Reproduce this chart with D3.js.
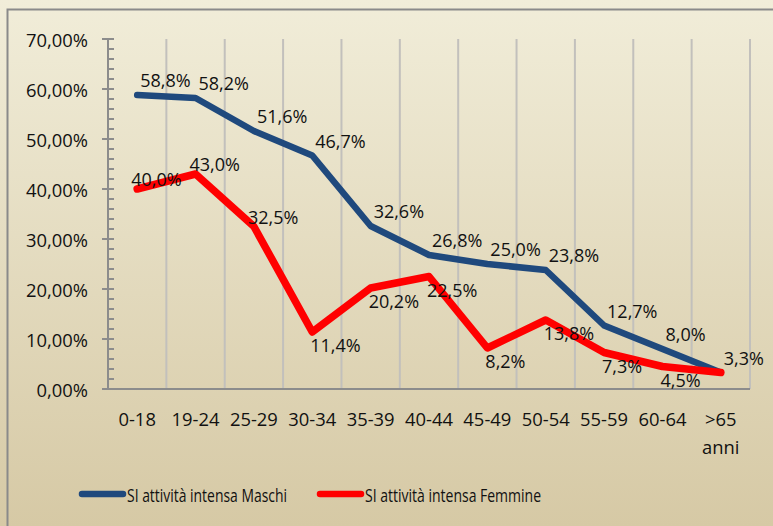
<!DOCTYPE html>
<html>
<head>
<meta charset="utf-8">
<script src="https://cdn.jsdelivr.net/npm/d3@7"></script>
<style>
  body { margin: 0; }
  svg text { font-family: "Open Sans", sans-serif; fill: #111; }
</style>
</head>
<body>
<svg id="chart" width="773" height="526"></svg>
<script>
// categories and series
const categories = ["0-18", "19-24", "25-29", "30-34", "35-39", "40-44", "45-49", "50-54", "55-59", "60-64", ">65 anni"];
const maschi = [58.8, 58.2, 51.6, 46.7, 32.6, 26.8, 25.0, 23.8, 12.7, 8.0, 3.3];
const femmine = [40.0, 43.0, 32.5, 11.4, 20.2, 22.5, 8.2, 13.8, 7.3, 4.5, 3.3];
const yTicks = [0, 10, 20, 30, 40, 50, 60, 70];
const seriesNames = ["SI attività intensa Maschi", "SI attività intensa Femmine"];

const width = 773, height = 526;
const svg = d3.select("#chart");

// background gradient
const defs = svg.append("defs");
const grad = defs.append("linearGradient").attr("id", "bg")
  .attr("x1", 0).attr("y1", 0).attr("x2", 0).attr("y2", 1);
grad.append("stop").attr("offset", "0%").attr("stop-color", "#f1edd9");
grad.append("stop").attr("offset", "100%").attr("stop-color", "#d6c9a5");
svg.append("rect").attr("width", width).attr("height", height).attr("fill", "url(#bg)");
svg.append("rect")
  .attr("x", 7.5).attr("y", 9.5).attr("width", 800).attr("height", 600)
  .attr("fill", "none").attr("stroke", "#8a8a8a").attr("stroke-width", 2);

const plotL = 108, plotR = 750, plotT = 39, plotB = 389;

const x = d3.scaleBand().domain(categories).range([plotL, plotR]);
const y = d3.scaleLinear().domain([0, 70]).range([plotB, plotT]);
const cx = d => x(d) + x.bandwidth() / 2;

// vertical gridlines at category boundaries
svg.append("g").selectAll("line")
  .data(categories)
  .enter().append("line")
  .attr("x1", d => x(d) + x.bandwidth())
  .attr("x2", d => x(d) + x.bandwidth())
  .attr("y1", plotT).attr("y2", plotB)
  .attr("stroke", "#c2c0bc").attr("stroke-width", 2);

// y axis with minor ticks
const yAxis = svg.append("g");
yAxis.append("line")
  .attr("x1", plotL).attr("x2", plotL).attr("y1", plotT).attr("y2", plotB)
  .attr("stroke", "#8c8c8c").attr("stroke-width", 2);
yAxis.selectAll(".minor")
  .data(d3.range(0, 70.01, 2))
  .enter().append("line")
  .attr("x1", plotL).attr("x2", plotL + 6)
  .attr("y1", d => y(d)).attr("y2", d => y(d))
  .attr("stroke", "#8c8c8c").attr("stroke-width", 2);
yAxis.selectAll(".major")
  .data(yTicks)
  .enter().append("line")
  .attr("x1", plotL - 6).attr("x2", plotL + 6)
  .attr("y1", d => y(d)).attr("y2", d => y(d))
  .attr("stroke", "#8c8c8c").attr("stroke-width", 2);
yAxis.selectAll("text")
  .data(yTicks)
  .enter().append("text")
  .attr("x", 88).attr("y", d => y(d))
  .attr("text-anchor", "end").attr("dominant-baseline", "central")
  .style("font-size", "18.4px")
  .text(d => d3.format(".2f")(d).replace(".", ",") + "%");

// x axis
svg.append("line")
  .attr("x1", plotL - 1).attr("x2", plotR).attr("y1", plotB).attr("y2", plotB)
  .attr("stroke", "#8c8c8c").attr("stroke-width", 2);
const xl = svg.append("g").selectAll("text")
  .data(categories)
  .enter().append("text")
  .attr("x", d => cx(d)).attr("y", 418)
  .attr("text-anchor", "middle").attr("dominant-baseline", "central")
  .style("font-size", "18.4px");
xl.each(function (d) {
  const parts = d.split(" ");
  d3.select(this).selectAll("tspan").data(parts).enter().append("tspan")
    .attr("x", cx(d)).attr("dy", (p, i) => i === 0 ? 0 : 28).text(p => p);
});

// lines
const fmt = v => d3.format(".1f")(v).replace(".", ",") + "%";
const line = d3.line().x((v, i) => cx(categories[i])).y(v => y(v));
svg.append("path").datum(maschi).attr("d", line)
  .attr("fill", "none").attr("stroke", "#1f497d").attr("stroke-width", 6.5)
  .attr("stroke-linejoin", "round").attr("stroke-linecap", "round");
svg.append("path").datum(femmine).attr("d", line)
  .attr("fill", "none").attr("stroke", "#ff0000").attr("stroke-width", 7.5)
  .attr("stroke-linejoin", "round").attr("stroke-linecap", "round");

// data labels
svg.append("g").selectAll("text")
  .data(maschi)
  .enter().append("text")
  .attr("x", (v, i) => cx(categories[i]) + 3)
  .attr("y", v => y(v) - 15)
  .attr("dominant-baseline", "central")
  .style("font-size", "18px")
  .text(fmt);
svg.append("g").selectAll("text")
  .data(femmine.slice(0, -1))
  .enter().append("text")
  .attr("x", (v, i) => cx(categories[i]) + (i < 3 ? -6 : -2))
  .attr("y", (v, i) => y(v) + (i < 3 ? -10 : 13))
  .attr("dominant-baseline", "central")
  .style("font-size", "18px")
  .text(fmt);

// legend
const legend = svg.append("g");
const legendItems = [
  { name: seriesNames[0], color: "#1f497d", x0: 82, len: 160 },
  { name: seriesNames[1], color: "#ff0000", x0: 320, len: 176 }
];
legendItems.forEach(it => {
  legend.append("line")
    .attr("x1", it.x0).attr("x2", it.x0 + 41).attr("y1", 494).attr("y2", 494)
    .attr("stroke", it.color).attr("stroke-width", 6.5).attr("stroke-linecap", "round");
  legend.append("text")
    .attr("x", it.x0 + 45).attr("y", 494)
    .attr("dominant-baseline", "central")
    .attr("textLength", it.len).attr("lengthAdjust", "spacingAndGlyphs")
    .style("font-size", "18.5px")
    .text(it.name);
});
</script>
</body>
</html>
